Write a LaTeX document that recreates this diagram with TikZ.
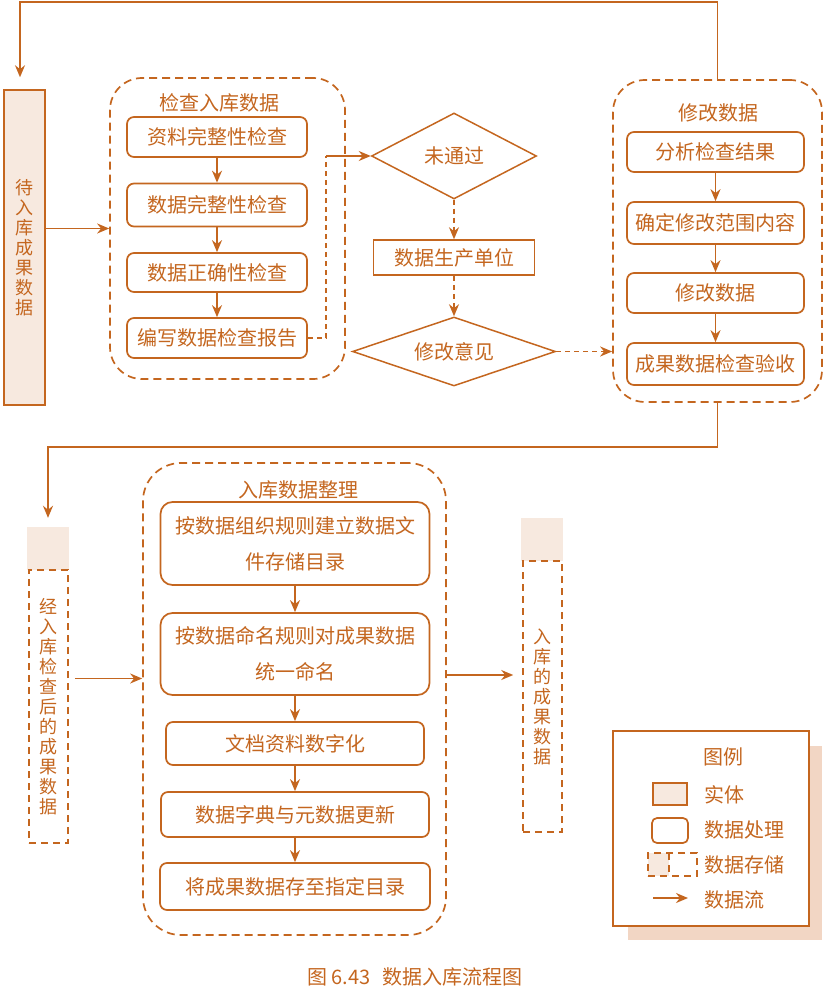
\documentclass[tikz,border=0pt]{standalone}
\usepackage{fontspec}
\setmainfont{Noto Sans CJK SC}
\usepackage{tikz}
\usetikzlibrary{arrows.meta, shapes.geometric}
\definecolor{rust}{HTML}{C4661F}
\definecolor{peach}{HTML}{F7E9DF}
\definecolor{shadowpeach}{HTML}{F2D6C4}

\begin{document}
\begin{tikzpicture}[
    x=1pt, y=-1pt,
    font=\fontsize{20}{24}\selectfont,
    every node/.style={text=rust},
    procbox/.style={rectangle, rounded corners=7pt, draw=rust, line width=1.7pt,
                    fill=white, align=center, inner sep=0pt},
    groupbox/.style={rectangle, rounded corners=32pt, draw=rust, line width=1.7pt,
                     dash pattern=on 8pt off 5pt, inner sep=0pt},
    entity/.style={rectangle, draw=rust, line width=1.5pt, fill=peach,
                   inner sep=0pt, align=center},
    storebox/.style={rectangle, draw=rust, line width=1.5pt, dash pattern=on 7pt off 5pt,
                     inner sep=0pt, align=center},
    storecap/.style={rectangle, fill=peach, inner sep=0pt},
    vtext/.style={font=\fontsize{18}{20}\selectfont},
    decision/.style={diamond, aspect=2.5, draw=rust, line width=1.5pt, inner sep=0pt},
    flow/.style={-{Stealth[length=12pt, width=10pt]}, line width=1.7pt, draw=rust},
    dashline/.style={line width=1.7pt, draw=rust, dash pattern=on 5pt off 4pt},
    dashflow/.style={dashline, -{Stealth[length=12pt, width=10pt]}}
  ]
    \useasboundingbox (0,0) rectangle (826,1008);

    \node[entity, vtext, minimum width=41pt, minimum height=315pt] (pending) at (24.5,247.5)
      {待\\入\\库\\成\\果\\数\\据};

    \node[groupbox, minimum width=235pt, minimum height=301pt] (checkgrp) at (227.5,228.5) {};
    \node (checktitle) at (219,103) {检查入库数据};
    \node[procbox, minimum width=180pt, minimum height=40pt] (docscheck)  at (217,137)   {资料完整性检查};
    \node[procbox, minimum width=180pt, minimum height=43pt] (datacheck)  at (217,205)   {数据完整性检查};
    \node[procbox, minimum width=180pt, minimum height=39pt] (validcheck) at (217,272.5) {数据正确性检查};
    \node[procbox, minimum width=180pt, minimum height=40pt] (report)     at (217,338)   {编写数据检查报告};

    \node[decision, minimum width=165pt, minimum height=86pt] (fail) at (454,156) {未通过};
    \node[rectangle, draw=rust, line width=1.5pt, minimum width=161pt, minimum height=35pt]
      (producer) at (454,257.5) {数据生产单位};
    \node[decision, minimum width=203pt, minimum height=69pt] (opinion) at (454,351.5) {修改意见};

    \node[groupbox, minimum width=209pt, minimum height=322pt] (modgrp) at (717.5,241) {};
    \node (modtitle) at (718,113) {修改数据};
    \node[procbox, minimum width=177pt, minimum height=40pt] (analyse) at (715.5,152) {分析检查结果};
    \node[procbox, minimum width=177pt, minimum height=42pt] (scope)   at (715.5,223) {确定修改范围内容};
    \node[procbox, minimum width=177pt, minimum height=40pt] (revise)  at (715.5,293) {修改数据};
    \node[procbox, minimum width=177pt, minimum height=42pt] (accept)  at (715.5,364) {成果数据检查验收};

    \node[storecap, minimum width=42pt, minimum height=43pt] (checkedcap) at (48,548.5) {};
    \node[storebox, vtext, minimum width=39pt, minimum height=273pt] (checked) at (48.5,706.5)
      {经\\入\\库\\检\\查\\后\\的\\成\\果\\数\\据};

    \node[groupbox, rounded corners=38pt, minimum width=303pt, minimum height=472pt] (arrgrp) at (294.5,699) {};
    \node (arrtitle) at (298,490) {入库数据整理};
    \node[procbox, rounded corners=12pt, minimum width=269pt, minimum height=83pt,
          font=\fontsize{20}{36}\selectfont] (mkdir) at (295,543.5)
      {按数据组织规则建立数据文\\件存储目录};
    \node[procbox, rounded corners=12pt, minimum width=269pt, minimum height=82pt,
          font=\fontsize{20}{36}\selectfont] (rename) at (295,654)
      {按数据命名规则对成果数据\\统一命名};
    \node[procbox, minimum width=258pt, minimum height=43pt] (digitize) at (295,743.5) {文档资料数字化};
    \node[procbox, minimum width=268pt, minimum height=45pt] (meta)     at (295,814.5) {数据字典与元数据更新};
    \node[procbox, minimum width=270pt, minimum height=47pt] (archive)  at (295,886.5) {将成果数据存至指定目录};

    \node[storecap, minimum width=42pt, minimum height=43pt] (storedcap) at (542,539.5) {};
    \node[storebox, vtext, minimum width=39pt, minimum height=271pt] (stored) at (542.5,696.5)
      {入\\库\\的\\成\\果\\数\\据};

    \fill[shadowpeach] (628,746) rectangle (822,940);
    \node[rectangle, draw=rust, line width=1.7pt, fill=white, minimum width=196pt,
          minimum height=195pt] (legend) at (711,828.5) {};
    \node (legtitle) at (723,757) {图例};
    \node[entity, minimum width=34pt, minimum height=22pt] (legentity) at (670,794) {};
    \node[anchor=west] (legentitytext) at (701,795) {实体};
    \node[procbox, rounded corners=5pt, minimum width=36pt, minimum height=25pt] (legproc) at (670,830.5) {};
    \node[anchor=west] (legproctext) at (701,830) {数据处理};
    \fill[peach] (648,853) rectangle (669,876);
    \node[storebox, minimum width=49pt, minimum height=23pt] (legstore) at (672.5,864.5) {};
    \draw[storebox] (669,853) -- (669,876);
    \node[anchor=west] (legstoretext) at (701,865) {数据存储};
    \coordinate (legflowstart) at (653,898);
    \coordinate (legflowend) at (688,898);
    \draw[flow] (legflowstart) -- (legflowend);
    \node[anchor=west] (legflowtext) at (701,900) {数据流};

    \node (caption) at (415,977) {图 6.43\hspace{0.6em}数据入库流程图};

    \coordinate (loopcorner) at (20,2);
    \draw[flow, shorten >=12pt] (modgrp.north) |- (loopcorner) -- (loopcorner |- pending.north);
    \draw[flow] (pending.east |- checkgrp.west) -- (checkgrp.west);
    \draw[flow] (docscheck.south) -- (datacheck.north);
    \draw[flow] (datacheck.south) -- (validcheck.north);
    \draw[flow] (validcheck.south) -- (report.north);

    \coordinate (reportturn) at (326,156);
    \draw[dashline] (report.east) -| (reportturn);
    \draw[flow] (reportturn) -- (fail.west);
    \draw[dashflow] (fail.south) -- (producer.north);
    \draw[dashflow] (producer.south) -- (opinion.north);
    \draw[dashflow] (opinion.east) -- (opinion.east -| modgrp.west);

    \draw[flow] (analyse.south) -- (scope.north);
    \draw[flow] (scope.south) -- (revise.north);
    \draw[flow] (revise.south) -- (accept.north);

    \coordinate (returncorner) at (48,447);
    \draw[flow, shorten >=9pt] (modgrp.south) |- (returncorner) -- (checkedcap.north);
    \draw[flow, shorten <=6pt] ([yshift=28pt]checked.east) -- ([yshift=28pt]checked.east -| arrgrp.west);
    \draw[flow] (mkdir.south) -- (rename.north);
    \draw[flow] (rename.south) -- (digitize.north);
    \draw[flow] (digitize.south) -- (meta.north);
    \draw[flow] (meta.south) -- (archive.north);
    \draw[flow, shorten >=9pt] ([yshift=24pt]arrgrp.east) -- ([yshift=24pt]arrgrp.east -| stored.west);
\end{tikzpicture}
\end{document}
